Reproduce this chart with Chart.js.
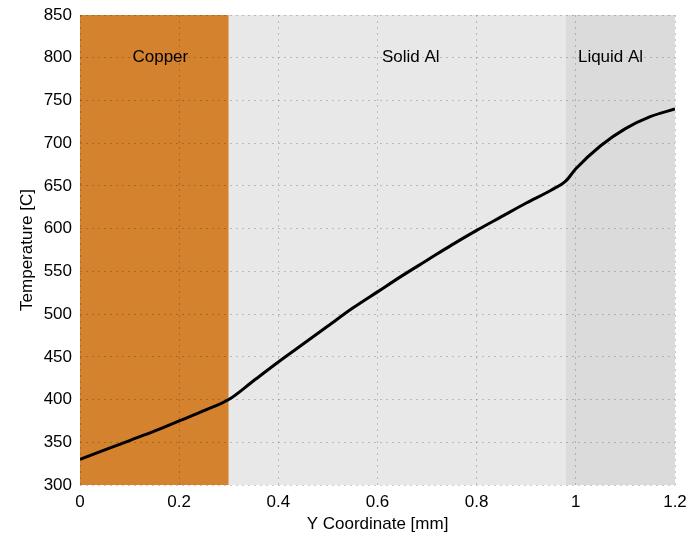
<!DOCTYPE html>
<html>
<head>
<meta charset="utf-8">
<script src="https://cdn.jsdelivr.net/npm/chart.js@4.4.1/dist/chart.umd.min.js"></script>
<style>
  html, body { margin: 0; padding: 0; background: #fff; }
  #wrap { width: 692px; height: 541px; }
</style>
</head>
<body>
<div id="wrap"><canvas id="tempChart" width="692" height="541"></canvas></div>
<script>
// curve
const yCoord = [0, 0.05, 0.1, 0.15, 0.2, 0.25, 0.3, 0.35, 0.4, 0.45, 0.5, 0.55, 0.6, 0.65, 0.7, 0.75, 0.8, 0.85, 0.9, 0.95, 0.98, 1.0, 1.05, 1.1, 1.15, 1.2];
const temperature = [330, 341, 352, 363, 375, 387, 400, 422, 444, 465, 486, 507, 526, 545, 563, 581, 598, 614, 630, 645, 656, 670, 697, 717, 731, 740];

// material zones
const regionNames = ['Copper', 'Solid Al', 'Liquid Al'];
const regionStart = [0, 0.3, 0.98];
const regionEnd = [0.3, 0.98, 1.2];
const regionColors = ['#D5822F', '#E8E8E8', '#DBDBDB'];
const regionLabelX = [0.162, 0.667, 1.07];
const regionLabelY = 800;

const xTicks = [0, 0.2, 0.4, 0.6, 0.8, 1, 1.2];
const yTicks = [300, 350, 400, 450, 500, 550, 600, 650, 700, 750, 800, 850];

const FONT = 'Liberation Sans, Arial, sans-serif';

// zones are painted before the grid so the dotted lines show on top
const zonePlugin = {
    id: 'zones',
    beforeDraw(chart) {
        const { ctx, chartArea, scales } = chart;
        ctx.save();
        regionNames.forEach((name, i) => {
            const x0 = scales.x.getPixelForValue(regionStart[i]);
            const x1 = scales.x.getPixelForValue(regionEnd[i]);
            ctx.fillStyle = regionColors[i];
            ctx.fillRect(x0, chartArea.top, x1 - x0, chartArea.bottom - chartArea.top);
        });
        ctx.restore();
    },
    afterDatasetsDraw(chart) {
        const { ctx, scales } = chart;
        ctx.save();
        ctx.fillStyle = '#000';
        ctx.font = '17px ' + FONT;
        ctx.textAlign = 'center';
        ctx.textBaseline = 'middle';
        regionNames.forEach((name, i) => {
            ctx.fillText(name, scales.x.getPixelForValue(regionLabelX[i]), scales.y.getPixelForValue(regionLabelY));
        });
        ctx.restore();
    }
};

const gridOpts = { color: 'rgba(0,0,0,0.2)', drawTicks: false, lineWidth: 1 };
const borderOpts = { display: false, dash: [2, 4] };

const ctx = document.getElementById('tempChart').getContext('2d');
new Chart(ctx, {
    type: 'scatter',
    data: {
        datasets: [{
            data: yCoord.map((x, i) => ({ x: x, y: temperature[i] })),
            showLine: true,
            borderColor: '#000',
            borderWidth: 3,
            pointRadius: 0,
            cubicInterpolationMode: 'monotone'
        }]
    },
    options: {
        responsive: false,
        animation: false,
        layout: { padding: { top: 15, right: 17, left: 0, bottom: 0 } },
        plugins: { legend: { display: false }, tooltip: { enabled: false } },
        scales: {
            x: {
                type: 'linear',
                min: 0, max: 1.2,
                afterBuildTicks: s => { s.ticks = xTicks.map(v => ({ value: v })); },
                afterFit: s => { s.height = 56; s.paddingLeft = 0; s.paddingRight = 0; },
                border: borderOpts,
                grid: gridOpts,
                ticks: {
                    color: '#000', padding: 7,
                    font: { family: FONT, size: 17 },
                    callback: v => String(+v.toFixed(1))
                },
                title: { display: true, text: 'Y Coordinate [mm]', color: '#000', font: { family: FONT, size: 17 }, padding: { top: 0, bottom: 6 } }
            },
            y: {
                min: 300, max: 850,
                afterBuildTicks: s => { s.ticks = yTicks.map(v => ({ value: v })); },
                afterFit: s => { s.width = 80; s.paddingTop = 0; s.paddingBottom = 0; },
                border: borderOpts,
                grid: gridOpts,
                ticks: { color: '#000', padding: 8, font: { family: FONT, size: 17 } },
                title: { display: true, text: 'Temperature [C]', color: '#000', font: { family: FONT, size: 17 }, padding: { top: 17, bottom: 0 } }
            }
        }
    },
    plugins: [zonePlugin]
});
</script>
</body>
</html>
